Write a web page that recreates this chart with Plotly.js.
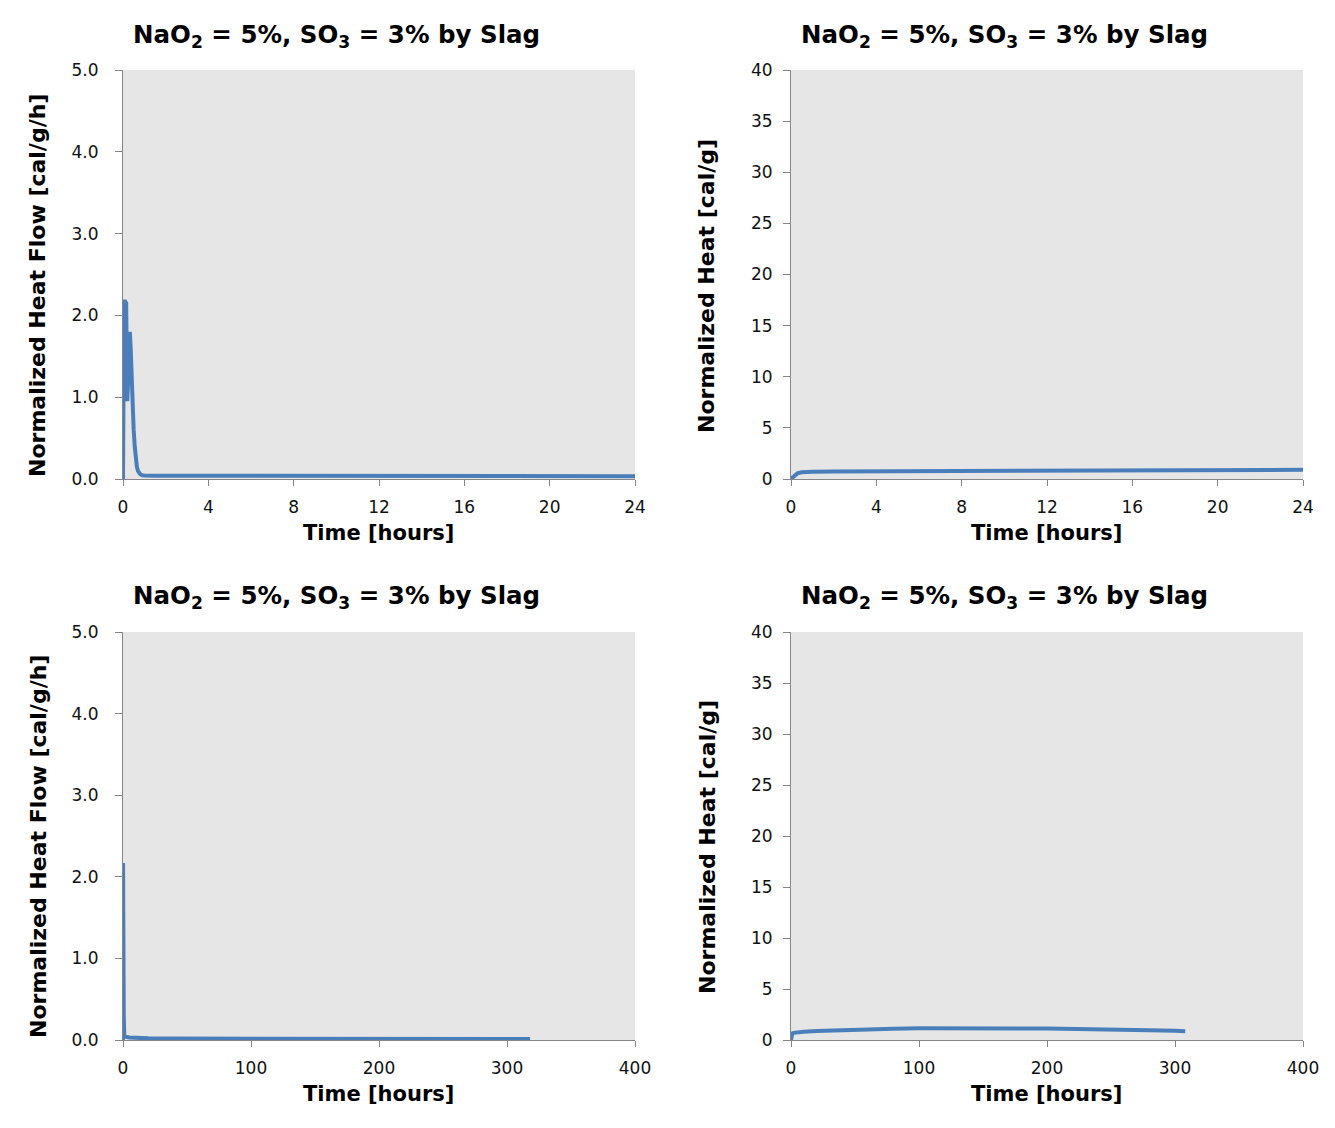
<!DOCTYPE html>
<html>
<head>
<meta charset="utf-8">
<script src="https://cdn.plot.ly/plotly-3.0.1.min.js"></script>
<style>html,body{margin:0;padding:0;background:#fff;}#chart{width:1335px;height:1128px;}</style>
</head>
<body>
<div id="chart"></div>
<script>
// ---- data ----
const chartTitle = "NaO<sub>2</sub> = 5%, SO<sub>3</sub> = 3% by Slag";
const xTitle = "Time [hours]";
const yTitleFlow = "Normalized Heat Flow [cal/g/h]";
const yTitleHeat = "Normalized Heat [cal/g]";

// 24 h heat flow
const flow24Time = [0, 0.03, 0.05, 0.1, 0.15, 0.18, 0.2, 0.24, 0.28, 0.32, 0.36, 0.4, 0.45, 0.5, 0.55, 0.6, 0.65, 0.7, 0.8, 0.9, 1.0, 1.5, 2, 3, 4, 6, 8, 10, 12, 14, 16, 18, 20, 22, 24];
const flow24Val  = [0, 1.5, 2.17, 2.17, 2.15, 1.3, 0.95, 1.2, 1.78, 1.8, 1.6, 1.25, 0.9, 0.6, 0.4, 0.25, 0.15, 0.1, 0.06, 0.045, 0.042, 0.04, 0.04, 0.039, 0.038, 0.037, 0.037, 0.036, 0.036, 0.035, 0.035, 0.035, 0.034, 0.034, 0.034];

// 24 h cumulative heat
const heat24Time = [0, 0.1, 0.2, 0.3, 0.5, 0.8, 1, 2, 4, 6, 8, 10, 12, 14, 16, 18, 20, 22, 24];
const heat24Val  = [0, 0.2, 0.4, 0.55, 0.65, 0.7, 0.72, 0.74, 0.76, 0.78, 0.8, 0.81, 0.82, 0.84, 0.85, 0.86, 0.87, 0.88, 0.9];

// long-term heat flow
const flowLongTime = [0, 0.05, 0.15, 0.2, 0.3, 0.6, 1, 2, 5, 10, 20, 40, 60, 80, 100, 120, 140, 160, 180, 200, 220, 240, 260, 280, 300, 318];
const flowLongVal  = [0, 2.17, 2.15, 0.95, 1.8, 0.3, 0.05, 0.04, 0.03, 0.025, 0.02, 0.018, 0.017, 0.016, 0.016, 0.015, 0.015, 0.015, 0.014, 0.014, 0.014, 0.013, 0.013, 0.013, 0.012, 0.012];

// long-term cumulative heat
const heatLongTime = [0, 0.5, 1, 2, 5, 10, 20, 40, 60, 80, 100, 120, 140, 160, 180, 200, 220, 240, 260, 280, 300, 308];
const heatLongVal  = [0, 0.55, 0.65, 0.7, 0.75, 0.8, 0.88, 0.98, 1.05, 1.1, 1.15, 1.17, 1.17, 1.15, 1.13, 1.12, 1.1, 1.08, 1.02, 0.95, 0.9, 0.86];

const flowTicks = [0, 1, 2, 3, 4, 5];
const heatTicks = [0, 5, 10, 15, 20, 25, 30, 35, 40];
const hourTicks24 = [0, 4, 8, 12, 16, 20, 24];
const hourTicksLong = [0, 100, 200, 300, 400];

// ---- layout helpers ----
const W = 1335, H = 1128;
const FONT = "DejaVu Sans, Verdana, sans-serif";
const lineColor = "#4a7ebb";
const px = v => v / W;
const py = v => 1 - v / H;

function trace(x, y, xa, ya) {
  return {x: x, y: y, xaxis: xa, yaxis: ya, type: "scatter", mode: "lines",
          line: {color: lineColor, width: 4}, hoverinfo: "skip", showlegend: false};
}
function xAxis(dom, anchor, range, ticks) {
  return {domain: dom, anchor: anchor, range: range, tickvals: ticks, ticktext: ticks.map(String),
          showgrid: false, zeroline: false, showline: true, linecolor: "#868686", linewidth: 1,
          ticks: "outside", ticklen: 6, tickcolor: "#868686", ticklabelstandoff: 7,
          tickfont: {family: FONT, size: 17, color: "#111"}, fixedrange: true};
}
function yAxis(dom, anchor, range, ticks, fmt, standoff) {
  return {domain: dom, anchor: anchor, range: range, tickvals: ticks,
          ticktext: ticks.map(v => fmt ? v.toFixed(1) : String(v)),
          showgrid: false, zeroline: false, showline: true, linecolor: "#868686", linewidth: 1,
          ticks: "outside", ticklen: 7, tickcolor: "#868686", ticklabelstandoff: standoff,
          tickfont: {family: FONT, size: 17, color: "#111"}, fixedrange: true};
}
function ann(text, x, y, size, rot) {
  return {text: "<b>" + text + "</b>", xref: "paper", yref: "paper", x: px(x), y: py(y),
          xanchor: "center", yanchor: "middle", showarrow: false, textangle: rot || 0,
          font: {family: FONT, size: size, color: "#000"}};
}

const xL = [px(123), px(635)], xR = [px(791), px(1303)];
const yT = [py(479), py(70)], yB = [py(1040), py(632)];

const data = [
  trace(flow24Time, flow24Val, "x", "y"),
  trace(heat24Time, heat24Val, "x2", "y2"),
  trace(flowLongTime, flowLongVal, "x3", "y3"),
  trace(heatLongTime, heatLongVal, "x4", "y4")
];

const layout = {
  width: W, height: H, margin: {l: 0, r: 0, t: 0, b: 0},
  paper_bgcolor: "#fff", plot_bgcolor: "#e6e6e6", showlegend: false,
  xaxis: xAxis(xL, "y", [0, 24], hourTicks24),
  yaxis: yAxis(yT, "x", [0, 5], flowTicks, true, 13),
  xaxis2: xAxis(xR, "y2", [0, 24], hourTicks24),
  yaxis2: yAxis(yT, "x2", [0, 40], heatTicks, false, 7),
  xaxis3: xAxis(xL, "y3", [0, 400], hourTicksLong),
  yaxis3: yAxis(yB, "x3", [0, 5], flowTicks, true, 13),
  xaxis4: xAxis(xR, "y4", [0, 400], hourTicksLong),
  yaxis4: yAxis(yB, "x4", [0, 40], heatTicks, false, 7),
  annotations: [
    ann(chartTitle, 336, 36, 24.5), ann(chartTitle, 1005, 36, 24.5),
    ann(chartTitle, 336, 597, 24.5), ann(chartTitle, 1005, 597, 24.5),
    ann(xTitle, 378, 533, 21), ann(xTitle, 1046, 533, 21),
    ann(xTitle, 378, 1094, 21), ann(xTitle, 1046, 1094, 21),
    ann(yTitleFlow, 38, 286, 22, -90), ann(yTitleHeat, 707, 286, 22, -90),
    ann(yTitleFlow, 38, 847, 22, -90), ann(yTitleHeat, 707, 847, 22, -90)
  ]
};

Plotly.newPlot("chart", data, layout, {displayModeBar: false, staticPlot: true});
</script>
</body>
</html>
